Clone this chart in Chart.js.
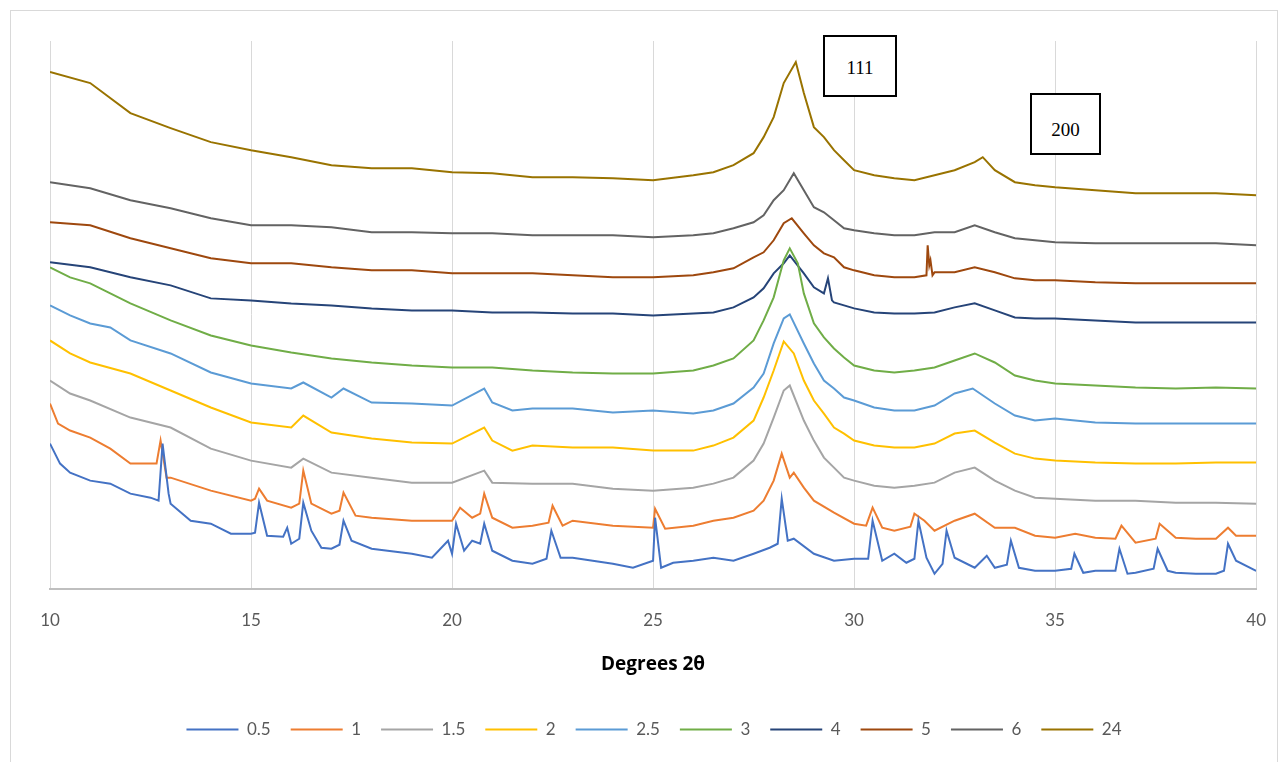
<!DOCTYPE html>
<html>
<head>
<meta charset="utf-8">
<script src="https://cdn.jsdelivr.net/npm/chart.js@4/dist/chart.umd.min.js"></script>
<style>
  body { margin: 0; background: #fff; }
  #wrap { position: relative; width: 1288px; height: 762px; }
  #frame { position: absolute; left: 10px; top: 10px; width: 1268px; height: 760px; border: 1px solid #d9d9d9; box-sizing: border-box; }
  .tag { position: absolute; border: 2px solid #000; background: #fff; font-family: "Liberation Serif", serif; font-size: 19px; text-align: center; box-sizing: border-box; }
</style>
</head>
<body>
<div id="wrap">
  <div id="frame"></div>
  <canvas id="chart" width="1288" height="762"></canvas>
  <div class="tag" style="left:823px; top:35px; width:74px; height:62px; line-height:62px;">111</div>
  <div class="tag" style="left:1030px; top:93px; width:71px; height:62px; line-height:70px;">200</div>
</div>
<script>
// series labels (time) and colours
const seriesNames = ["0.5", "1", "1.5", "2", "2.5", "3", "4", "5", "6", "24"]
const seriesColors = ["#4472C4", "#ED7D31", "#A5A5A5", "#FFC000", "#5B9BD5", "#70AD47", "#264478", "#9E480E", "#636363", "#997300"]
const xTicks = [10, 15, 20, 25, 30, 35, 40]

// [2theta, intensity] (stacked, arbitrary units)
const s05 = [[10,145],[10.25,125],[10.5,116],[11,108],[11.5,105],[12,95],[12.5,91],[12.7,88],[12.8,145],[12.95,95],[13,85],[13.5,68],[14,65],[14.5,55],[15,55],[15.1,56],[15.2,86],[15.4,53],[15.8,52],[15.9,61],[16,45],[16.2,50],[16.3,86],[16.5,58],[16.75,41],[17,40],[17.2,44],[17.3,68],[17.5,48],[18,40],[19,35],[19.5,31],[19.9,48],[20,35],[20.1,65],[20.3,38],[20.5,48],[20.7,45],[20.8,65],[21,38],[21.5,28],[22,25],[22.35,30],[22.47,58],[22.7,31],[23,31],[24,25],[24.5,21],[25,28],[25.05,71],[25.2,21],[25.5,26],[26,28],[26.5,31],[27,28],[27.5,35],[27.9,41],[28.1,45],[28.2,90],[28.35,48],[28.5,50],[29,35],[29.5,28],[30,30],[30.35,30],[30.46,68],[30.7,28],[31,35],[31.3,26],[31.5,30],[31.6,68],[31.8,31],[32,15],[32.2,25],[32.3,58],[32.5,31],[33,21],[33.3,33],[33.5,21],[33.8,24],[33.9,48],[34.1,21],[34.5,18],[35,18],[35.4,20],[35.48,35],[35.7,16],[36,18],[36.5,18],[36.6,40],[36.8,15],[37,16],[37.45,20],[37.55,40],[37.8,18],[38,16],[38.5,15],[39,15],[39.2,18],[39.3,45],[39.5,28],[40,18]]
const s1 = [[10,185],[10.2,165],[10.5,158],[11,151],[11.5,140],[12,125],[12.5,125],[12.65,125],[12.75,148],[12.9,111],[13,111],[14,98],[15,88],[15.1,90],[15.2,100],[15.4,88],[16,81],[16.2,85],[16.3,118],[16.5,85],[17,75],[17.2,78],[17.3,96],[17.6,73],[18,71],[19,68],[20,68],[20.2,81],[20.5,71],[20.7,75],[20.8,95],[21,71],[21.5,61],[22,63],[22.4,66],[22.5,83],[22.75,63],[23,68],[24,63],[25,61],[25.05,80],[25.3,60],[26,63],[26.5,68],[27,71],[27.5,78],[27.75,88],[28,108],[28.2,135],[28.4,111],[28.5,116],[28.75,101],[29,88],[29.5,76],[30,65],[30.3,63],[30.46,81],[30.7,61],[31,58],[31.4,62],[31.5,75],[31.75,68],[32,58],[32.5,68],[33,75],[33.5,61],[34,61],[34.5,53],[35,51],[35.5,55],[36,51],[36.5,50],[36.65,63],[37,46],[37.5,50],[37.6,65],[38,51],[38.5,50],[39,50],[39.3,61],[39.5,53],[40,53]]
const s15 = [[10,208],[10.5,195],[11,188],[12,171],[13,161],[14,140],[15,128],[16,121],[16.3,130],[17,116],[18,111],[19,106],[20,106],[20.8,118],[21,106],[22,105],[23,105],[24,100],[25,98],[26,101],[26.5,105],[27,111],[27.5,128],[27.75,145],[28,171],[28.25,198],[28.4,203],[28.75,168],[29,148],[29.25,131],[29.5,121],[29.75,111],[30,108],[30.5,103],[31,101],[31.5,103],[32,106],[32.5,116],[33,121],[33.5,108],[34,98],[34.5,91],[35,90],[36,88],[37,88],[38,86],[39,86],[40,85]]
const s2 = [[10,248],[10.5,235],[11,226],[12,215],[13,198],[14,181],[15,166],[16,161],[16.3,173],[17,156],[18,150],[19,146],[20,145],[20.8,161],[21,148],[21.5,138],[22,143],[23,141],[24,141],[25,138],[26,138],[26.5,143],[27,151],[27.5,168],[27.75,191],[28,218],[28.25,247],[28.5,235],[28.75,208],[29,188],[29.25,175],[29.5,161],[29.75,155],[30,148],[30.5,143],[31,141],[31.5,141],[32,145],[32.5,155],[33,158],[33.5,146],[34,135],[34.5,130],[35,128],[36,126],[37,125],[38,125],[39,126],[40,126]]
const s25 = [[10,283],[10.5,273],[11,265],[11.5,261],[12,248],[13,235],[14,216],[15,205],[16,200],[16.3,206],[17,191],[17.3,200],[18,186],[19,185],[20,183],[20.8,200],[21,186],[21.5,178],[22,180],[23,180],[24,176],[25,178],[26,175],[26.5,178],[27,185],[27.5,201],[27.75,215],[28,245],[28.25,270],[28.4,274],[28.75,245],[29,225],[29.25,208],[29.5,200],[29.75,191],[30,188],[30.5,181],[31,178],[31.5,178],[32,183],[32.5,195],[32.95,200],[33.5,185],[34,173],[34.5,168],[35,170],[36,166],[37,165],[38,165],[39,165],[40,165]]
const s3 = [[10,321],[10.5,311],[11,305],[12,285],[13,268],[14,253],[15,243],[16,236],[17,230],[18,226],[19,223],[20,221],[21,221],[22,218],[23,216],[24,215],[25,215],[26,218],[26.5,223],[27,230],[27.5,248],[27.75,268],[28,291],[28.25,328],[28.4,340],[28.6,325],[28.75,295],[29,265],[29.25,251],[29.5,240],[29.75,231],[30,223],[30.5,218],[31,216],[31.5,218],[32,221],[32.5,228],[33,235],[33.5,226],[34,213],[34.5,208],[35,205],[36,203],[37,201],[38,200],[39,201],[40,200]]
const s4 = [[10,326],[11,321],[12,311],[13,303],[14,290],[15,288],[16,285],[17,283],[18,280],[19,278],[20,278],[21,276],[22,276],[23,275],[24,275],[25,273],[26,275],[26.5,276],[27,281],[27.5,291],[27.75,300],[28,315],[28.25,325],[28.4,333],[28.75,315],[29,301],[29.25,295],[29.35,310],[29.45,288],[29.5,286],[29.75,283],[30,280],[30.5,276],[31,275],[31.5,275],[32,276],[32.5,281],[33,285],[33.5,278],[34,271],[34.5,270],[35,270],[36,268],[37,266],[38,266],[39,266],[40,266]]
const s5 = [[10,366],[11,363],[12,350],[13,340],[14,330],[15,325],[16,325],[17,321],[18,318],[19,318],[20,315],[21,315],[22,315],[23,313],[24,311],[25,311],[26,313],[26.5,316],[27,320],[27.5,331],[27.75,336],[28,348],[28.25,365],[28.45,370],[28.75,355],[29,343],[29.25,335],[29.5,331],[29.75,321],[30,318],[30.5,313],[31,311],[31.5,311],[31.8,313],[31.83,343],[31.87,323],[31.9,328],[31.95,313],[32,316],[32.5,316],[33,321],[33.5,316],[34,310],[34.5,308],[35,308],[36,306],[37,305],[38,305],[39,305],[40,305]]
const s6 = [[10,406],[11,400],[12,388],[13,380],[14,370],[15,363],[16,363],[17,361],[18,356],[19,356],[20,355],[21,355],[22,353],[23,353],[24,353],[25,351],[26,353],[26.5,355],[27,360],[27.5,366],[27.75,373],[28,388],[28.25,398],[28.5,415],[28.75,398],[29,381],[29.25,376],[29.5,368],[29.75,360],[30,358],[30.5,355],[31,353],[31.5,353],[32,356],[32.5,356],[33,363],[33.5,356],[34,350],[34.5,348],[35,346],[36,345],[37,345],[38,345],[39,345],[40,343]]
const s24 = [[10,516],[11,505],[12,475],[13,460],[14,446],[15,438],[16,431],[17,423],[18,420],[19,420],[20,416],[21,415],[22,411],[23,411],[24,410],[25,408],[26,413],[26.5,416],[27,423],[27.5,435],[27.75,451],[28,471],[28.25,505],[28.55,526],[28.75,495],[29,461],[29.25,451],[29.5,438],[29.75,428],[30,418],[30.5,413],[31,410],[31.5,408],[32,413],[32.5,418],[33,426],[33.2,431],[33.5,418],[34,406],[34.5,403],[35,401],[36,398],[37,395],[38,395],[39,395],[40,393]]

const allSeries = [s05, s1, s15, s2, s25, s3, s4, s5, s6, s24]

const datasets = allSeries.map(function (s, i) {
    return {
        label: seriesNames[i],
        data: s.map(p => ({x: p[0], y: p[1]})),
        borderColor: seriesColors[i],
        backgroundColor: seriesColors[i],
        borderWidth: 2,
        pointRadius: 0,
        tension: 0
    }
})

const chart = new Chart("chart", {
    type: "line",
    data: { datasets: datasets },
    options: {
        responsive: false,
        animation: false,
        layout: { padding: { left: 50, right: 30, top: 41, bottom: 14 } },
        scales: {
            x: {
                type: "linear",
                min: 10,
                max: 40,
                afterBuildTicks: function (axis) { axis.ticks = xTicks.map(v => ({value: v})) },
                grid: { color: "#d9d9d9", lineWidth: 1, drawTicks: false },
                border: { color: "#bfbfbf", width: 2 },
                ticks: { color: "#595959", padding: 22, font: { family: "Lato, 'DejaVu Sans'", size: 17 } },
                title: {
                    display: true,
                    text: "Degrees 2θ",
                    color: "#000",
                    font: { family: "'Open Sans', Lato, sans-serif", size: 19, weight: "bold" },
                    padding: { top: 0, bottom: 25 }
                }
            },
            y: {
                min: 0,
                max: 547,
                display: false
            }
        },
        plugins: {
            legend: {
                position: "bottom",
                labels: {
                    usePointStyle: true,
                    pointStyle: "line",
                    pointStyleWidth: 52,
                    color: "#595959",
                    padding: 20,
                    font: { family: "Lato, 'DejaVu Sans'", size: 17 }
                }
            },
            tooltip: { enabled: false }
        }
    }
})
</script>
</body>
</html>
